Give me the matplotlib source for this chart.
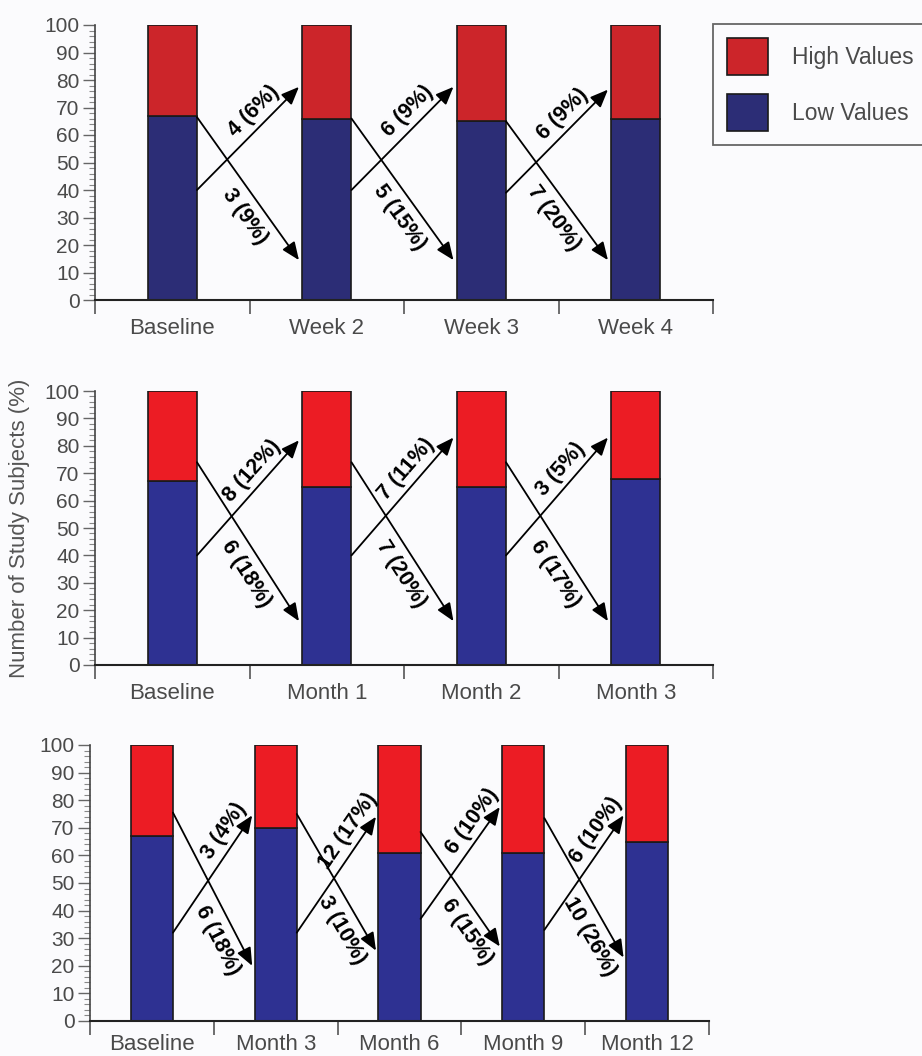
import numpy as np
import matplotlib.pyplot as plt
from matplotlib.patches import Patch
from matplotlib.ticker import MultipleLocator

plt.rcParams['font.family'] = ['Liberation Sans', 'DejaVu Sans']

############################################
### data ###
############################################

# panel 1 : weeks
cats1 = ['Baseline', 'Week 2', 'Week 3', 'Week 4']
low1 = [67, 66, 65, 66]
high1 = [33, 34, 35, 34]
up_lbl1 = ['4 (6%)', '6 (9%)', '6 (9%)']
down_lbl1 = ['3 (9%)', '5 (15%)', '7 (20%)']
up_from1 = [40, 40, 39]
up_to1 = [77.5, 77.5, 76.5]
down_from1 = [66.5, 66, 65]
down_to1 = [14.5, 14.5, 14.5]

# panel 2 : months 1-3
cats2 = ['Baseline', 'Month 1', 'Month 2', 'Month 3']
low2 = [67, 65, 65, 68]
high2 = [33, 35, 35, 32]
up_lbl2 = ['8 (12%)', '7 (11%)', '3 (5%)']
down_lbl2 = ['6 (18%)', '7 (20%)', '6 (17%)']
up_from2 = [40, 40, 40]
up_to2 = [82, 83, 83]
down_from2 = [74, 74, 74]
down_to2 = [16, 16, 16]

# panel 3 : months 3-12
cats3 = ['Baseline', 'Month 3', 'Month 6', 'Month 9', 'Month 12']
low3 = [67, 70, 61, 61, 65]
high3 = [33, 30, 39, 39, 35]
up_lbl3 = ['3 (4%)', '12 (17%)', '6 (10%)', '6 (10%)']
down_lbl3 = ['6 (18%)', '3 (10%)', '6 (15%)', '10 (26%)']
up_from3 = [32, 32, 37, 33]
up_to3 = [74.5, 74, 77.5, 74.5]
down_from3 = [75.5, 75, 68.5, 73.5]
down_to3 = [20, 25.5, 27, 23]

W, H = 922, 1056
fig = plt.figure(figsize=(W / 100, H / 100), dpi=100, facecolor='#fbfbfd')

# (left, right, top, bottom) in pixels, bar width, label fractions, colours
panels = [
    dict(box=(95, 713, 25, 300), cats=cats1, low=low1, high=high1,
         ul=up_lbl1, dl=down_lbl1, uf=up_from1, ut=up_to1, df=down_from1, dt=down_to1,
         w=0.32, fu=0.66, fd=0.62, pad=13, red='#cc252a', blue='#2c2d76'),
    dict(box=(95, 713, 391, 665), cats=cats2, low=low2, high=high2,
         ul=up_lbl2, dl=down_lbl2, uf=up_from2, ut=up_to2, df=down_from2, dt=down_to2,
         w=0.32, fu=0.65, fd=0.64, pad=13, red='#ec1c24', blue='#2e3192'),
    dict(box=(90, 709, 745, 1021), cats=cats3, low=low3, high=high3,
         ul=up_lbl3, dl=down_lbl3, uf=up_from3, ut=up_to3, df=down_from3, dt=down_to3,
         w=0.34, fu=0.8, fd=0.78, pad=9, red='#ec1c24', blue='#2e3192'),
]

arrow_kw = dict(arrowstyle='-|>,head_length=0.6,head_width=0.25', color='black',
                lw=1.3, mutation_scale=18, shrinkA=0, shrinkB=0)


def flow_label(ax, x0, y0, x1, y1, frac, off_px, text, up):
    p0 = ax.transData.transform((x0, y0))
    p1 = ax.transData.transform((x1, y1))
    d = p1 - p0
    u = d / np.hypot(*d)
    ang = np.degrees(np.arctan2(d[1], d[0]))
    n = np.array([-u[1], u[0]]) if up else np.array([u[1], -u[0]])
    px, py = x0 + frac * (x1 - x0), y0 + frac * (y1 - y0)
    ax.annotate(text, xy=(px, py), xytext=(n[0] * off_px * 0.72, n[1] * off_px * 0.72),
                textcoords='offset points', ha='center', va='center',
                rotation=ang, rotation_mode='anchor', fontweight='bold', fontsize=15.5)


for p in panels:
    l, r, t, b = p['box']
    ax = fig.add_axes([l / W, 1 - b / H, (r - l) / W, (b - t) / H])
    ax.set_facecolor('none')
    n = len(p['cats'])
    x = np.arange(n)
    w = p['w']
    ax.bar(x, p['low'], w, color=p['blue'], edgecolor='#1a1a1a', lw=1.2, zorder=2)
    ax.bar(x, p['high'], w, bottom=p['low'], color=p['red'], edgecolor='#1a1a1a', lw=1.2, zorder=2)
    ax.set_xlim(-0.5, n - 0.5)
    ax.set_ylim(0, 100)

    for i in range(n - 1):
        xs = i + w / 2
        xe = i + 1 - w / 2 - 0.02
        ax.annotate('', xy=(xe, p['ut'][i]), xytext=(xs, p['uf'][i]), arrowprops=arrow_kw, zorder=3)
        ax.annotate('', xy=(xe, p['dt'][i]), xytext=(xs, p['df'][i]), arrowprops=arrow_kw, zorder=3)
        flow_label(ax, xs, p['uf'][i], xe, p['ut'][i], p['fu'], 15, p['ul'][i], True)
        flow_label(ax, xs, p['df'][i], xe, p['dt'][i], p['fd'], 19, p['dl'][i], False)

    for s in ['top', 'right']:
        ax.spines[s].set_visible(False)
    ax.spines['left'].set_color('#444444')
    ax.spines['left'].set_linewidth(1.2)
    ax.spines['bottom'].set_color('#222222')
    ax.spines['bottom'].set_linewidth(1.5)

    ax.set_xticks(np.arange(n + 1) - 0.5)
    ax.set_xticklabels([])
    ax.tick_params(axis='x', which='major', direction='out', length=10, width=1.2, color='#555555')
    ax.set_xticks(x, minor=True)
    ax.set_xticklabels(p['cats'], minor=True, fontsize=16, color='#4a4a4a')
    ax.tick_params(axis='x', which='minor', length=0, pad=p['pad'])

    ax.yaxis.set_major_locator(MultipleLocator(10))
    ax.yaxis.set_minor_locator(MultipleLocator(2))
    ax.tick_params(axis='y', which='major', direction='out', length=9, width=1.0,
                   color='#666666', labelsize=15, labelcolor='#4a4a4a', pad=2)
    ax.tick_params(axis='y', which='minor', direction='out', length=4, width=0.8, color='#888888')

fig.text(20 / W, 0.5, 'Number of Study Subjects (%)', rotation=90, ha='center', va='center',
         fontsize=16, color='#555555')

handles = [Patch(facecolor=panels[0]['red'], edgecolor='#1a1a1a', lw=1.2),
           Patch(facecolor=panels[0]['blue'], edgecolor='#1a1a1a', lw=1.2)]
leg = fig.legend(handles, ['High Values', 'Low Values'], loc='upper left',
                 bbox_to_anchor=(713 / W, 1 - 24 / H), borderaxespad=0, fontsize=16.5,
                 handlelength=1.8, handleheight=2.15, labelspacing=0.8, handletextpad=1.05,
                 borderpad=0.6, fancybox=False, edgecolor='#666666', framealpha=1,
                 facecolor='#fbfbfd')
leg.get_frame().set_linewidth(1.3)
for t in leg.get_texts():
    t.set_color('#4a4a4a')

plt.savefig('out.png', dpi=100, facecolor=fig.get_facecolor())
plt.close()
